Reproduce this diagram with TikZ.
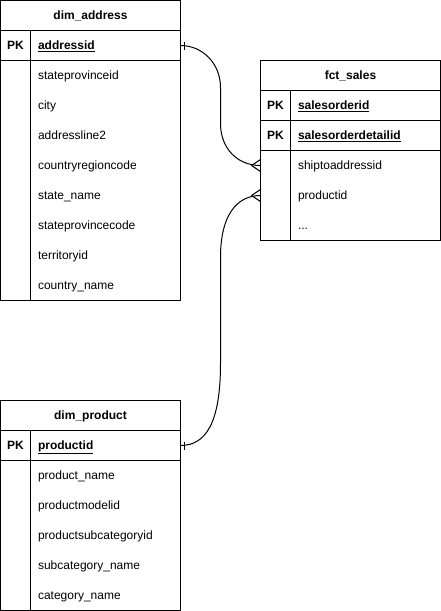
\documentclass[tikz,border=0pt]{standalone}
\usepackage{fontspec}
\setmainfont{Liberation Sans}
\usetikzlibrary{calc}
\begin{document}
\fontsize{12}{14}\selectfont
\begin{tikzpicture}[x=1pt,y=-1pt,line width=1pt,
  tbox/.style={draw,rectangle,inner sep=0,outer sep=0,minimum width=180pt,anchor=north west},
  hdr/.style={tbox,minimum height=30pt,font=\bfseries,text height=8pt,text depth=0pt},
  pkrow/.style={tbox,minimum height=30pt},
  attrrow/.style={rectangle,inner sep=0,outer sep=0,minimum width=180pt,minimum height=30pt,anchor=north west},
  txt/.style={inner sep=0,outer sep=0,text height=8pt,text depth=0pt},
  pklbl/.style={txt,font=\bfseries},
  fld/.style={txt,anchor=west},
  pkfld/.style={fld,font=\bfseries},
  rel/.style={line width=1pt}]
\useasboundingbox (0,0) rectangle (441,611);

% ---------- dim_address ----------
\node[tbox,minimum height=300pt] (addr) at (0.5,0.5) {};
\node[hdr] (addrh) at (0.5,0.5) {dim\_address};
\node[pkrow] (addrpk) at (0.5,30.5) {};
\node[pklbl] (addrpkl) at ($(addrpk.west)+(15,0)$) {PK};
\node[pkfld] (addrpkf) at ($(addrpk.west)+(37.5,0)$) {\underline{addressid}};
\draw ($(addrpk.north west)+(30,0)$) -- ($(addr.south west)+(30,0)$);
\foreach \t [count=\i] in {stateprovinceid,city,addressline2,countryregioncode,state\_name,stateprovincecode,territoryid,country\_name}{
  \node[attrrow] (addrr\i) at (0.5,30.5+30*\i) {};
  \node[fld] (addrt\i) at ($(addrr\i.west)+(37.5,0)$) {\t};
}

% ---------- fct_sales ----------
\node[tbox,minimum height=180pt] (sales) at (260.5,60.5) {};
\node[hdr] (salesh) at (260.5,60.5) {fct\_sales};
\node[pkrow] (salespk1) at (260.5,90.5) {};
\node[pklbl] (salespk1l) at ($(salespk1.west)+(15,0)$) {PK};
\node[pkfld] (salespk1f) at ($(salespk1.west)+(37.5,0)$) {\underline{salesorderid}};
\node[pkrow] (salespk2) at (260.5,120.5) {};
\node[pklbl] (salespk2l) at ($(salespk2.west)+(15,0)$) {PK};
\node[pkfld] (salespk2f) at ($(salespk2.west)+(37.5,0)$) {\underline{salesorderdetailid}};
\draw ($(salespk1.north west)+(30,0)$) -- ($(sales.south west)+(30,0)$);
\node[attrrow] (salesship) at (260.5,150.5) {};
\node[fld] (salesshipt) at ($(salesship.west)+(37.5,0)$) {shiptoaddressid};
\node[attrrow] (salesprod) at (260.5,180.5) {};
\node[fld] (salesprodt) at ($(salesprod.west)+(37.5,0)$) {productid};
\node[attrrow] (salesdots) at (260.5,210.5) {};
\node[fld] (salesdotst) at ($(salesdots.west)+(37.5,0)$) {...};

% ---------- dim_product ----------
\node[tbox,minimum height=210pt] (prod) at (0.5,400.5) {};
\node[hdr] (prodh) at (0.5,400.5) {dim\_product};
\node[pkrow] (prodpk) at (0.5,430.5) {};
\node[pklbl] (prodpkl) at ($(prodpk.west)+(15,0)$) {PK};
\node[pkfld] (prodpkf) at ($(prodpk.west)+(37.5,0)$) {\underline{productid}};
\draw ($(prodpk.north west)+(30,0)$) -- ($(prod.south west)+(30,0)$);
\foreach \t [count=\i] in {product\_name,productmodelid,productsubcategoryid,subcategory\_name,category\_name}{
  \node[attrrow] (prodr\i) at (0.5,430.5+30*\i) {};
  \node[fld] (prodt\i) at ($(prodr\i.west)+(37.5,0)$) {\t};
}

% ---------- relations ----------
\draw[rel] (addrpk.east) .. controls ($(addrpk.east)+(22,0)$) and ($(addrpk.east)+(40,18)$) .. ($(addrpk.east)+(40,42)$)
  -- ($(salesship.west)+(-40,-42)$)
  .. controls ($(salesship.west)+(-40,-18)$) and ($(salesship.west)+(-24,0)$) .. (salesship.west);
\draw[rel] ($(addrpk.east)+(4,-4)$) -- ($(addrpk.east)+(4,4)$);
\draw[rel] ($(salesship.west)+(-9,0)$) -- ($(salesship.west)+(0,-6)$);
\draw[rel] ($(salesship.west)+(-9,0)$) -- ($(salesship.west)+(0,6)$);

\draw[rel] (prodpk.east) .. controls ($(prodpk.east)+(25,0)$) and ($(prodpk.east)+(40,-22)$) .. ($(prodpk.east)+(40,-82)$)
  -- ($(salesprod.west)+(-40,62)$)
  .. controls ($(salesprod.west)+(-40,20)$) and ($(salesprod.west)+(-24,0)$) .. (salesprod.west);
\draw[rel] ($(prodpk.east)+(4,-4)$) -- ($(prodpk.east)+(4,4)$);
\draw[rel] ($(salesprod.west)+(-9,0)$) -- ($(salesprod.west)+(0,-6)$);
\draw[rel] ($(salesprod.west)+(-9,0)$) -- ($(salesprod.west)+(0,6)$);
\end{tikzpicture}
\end{document}
